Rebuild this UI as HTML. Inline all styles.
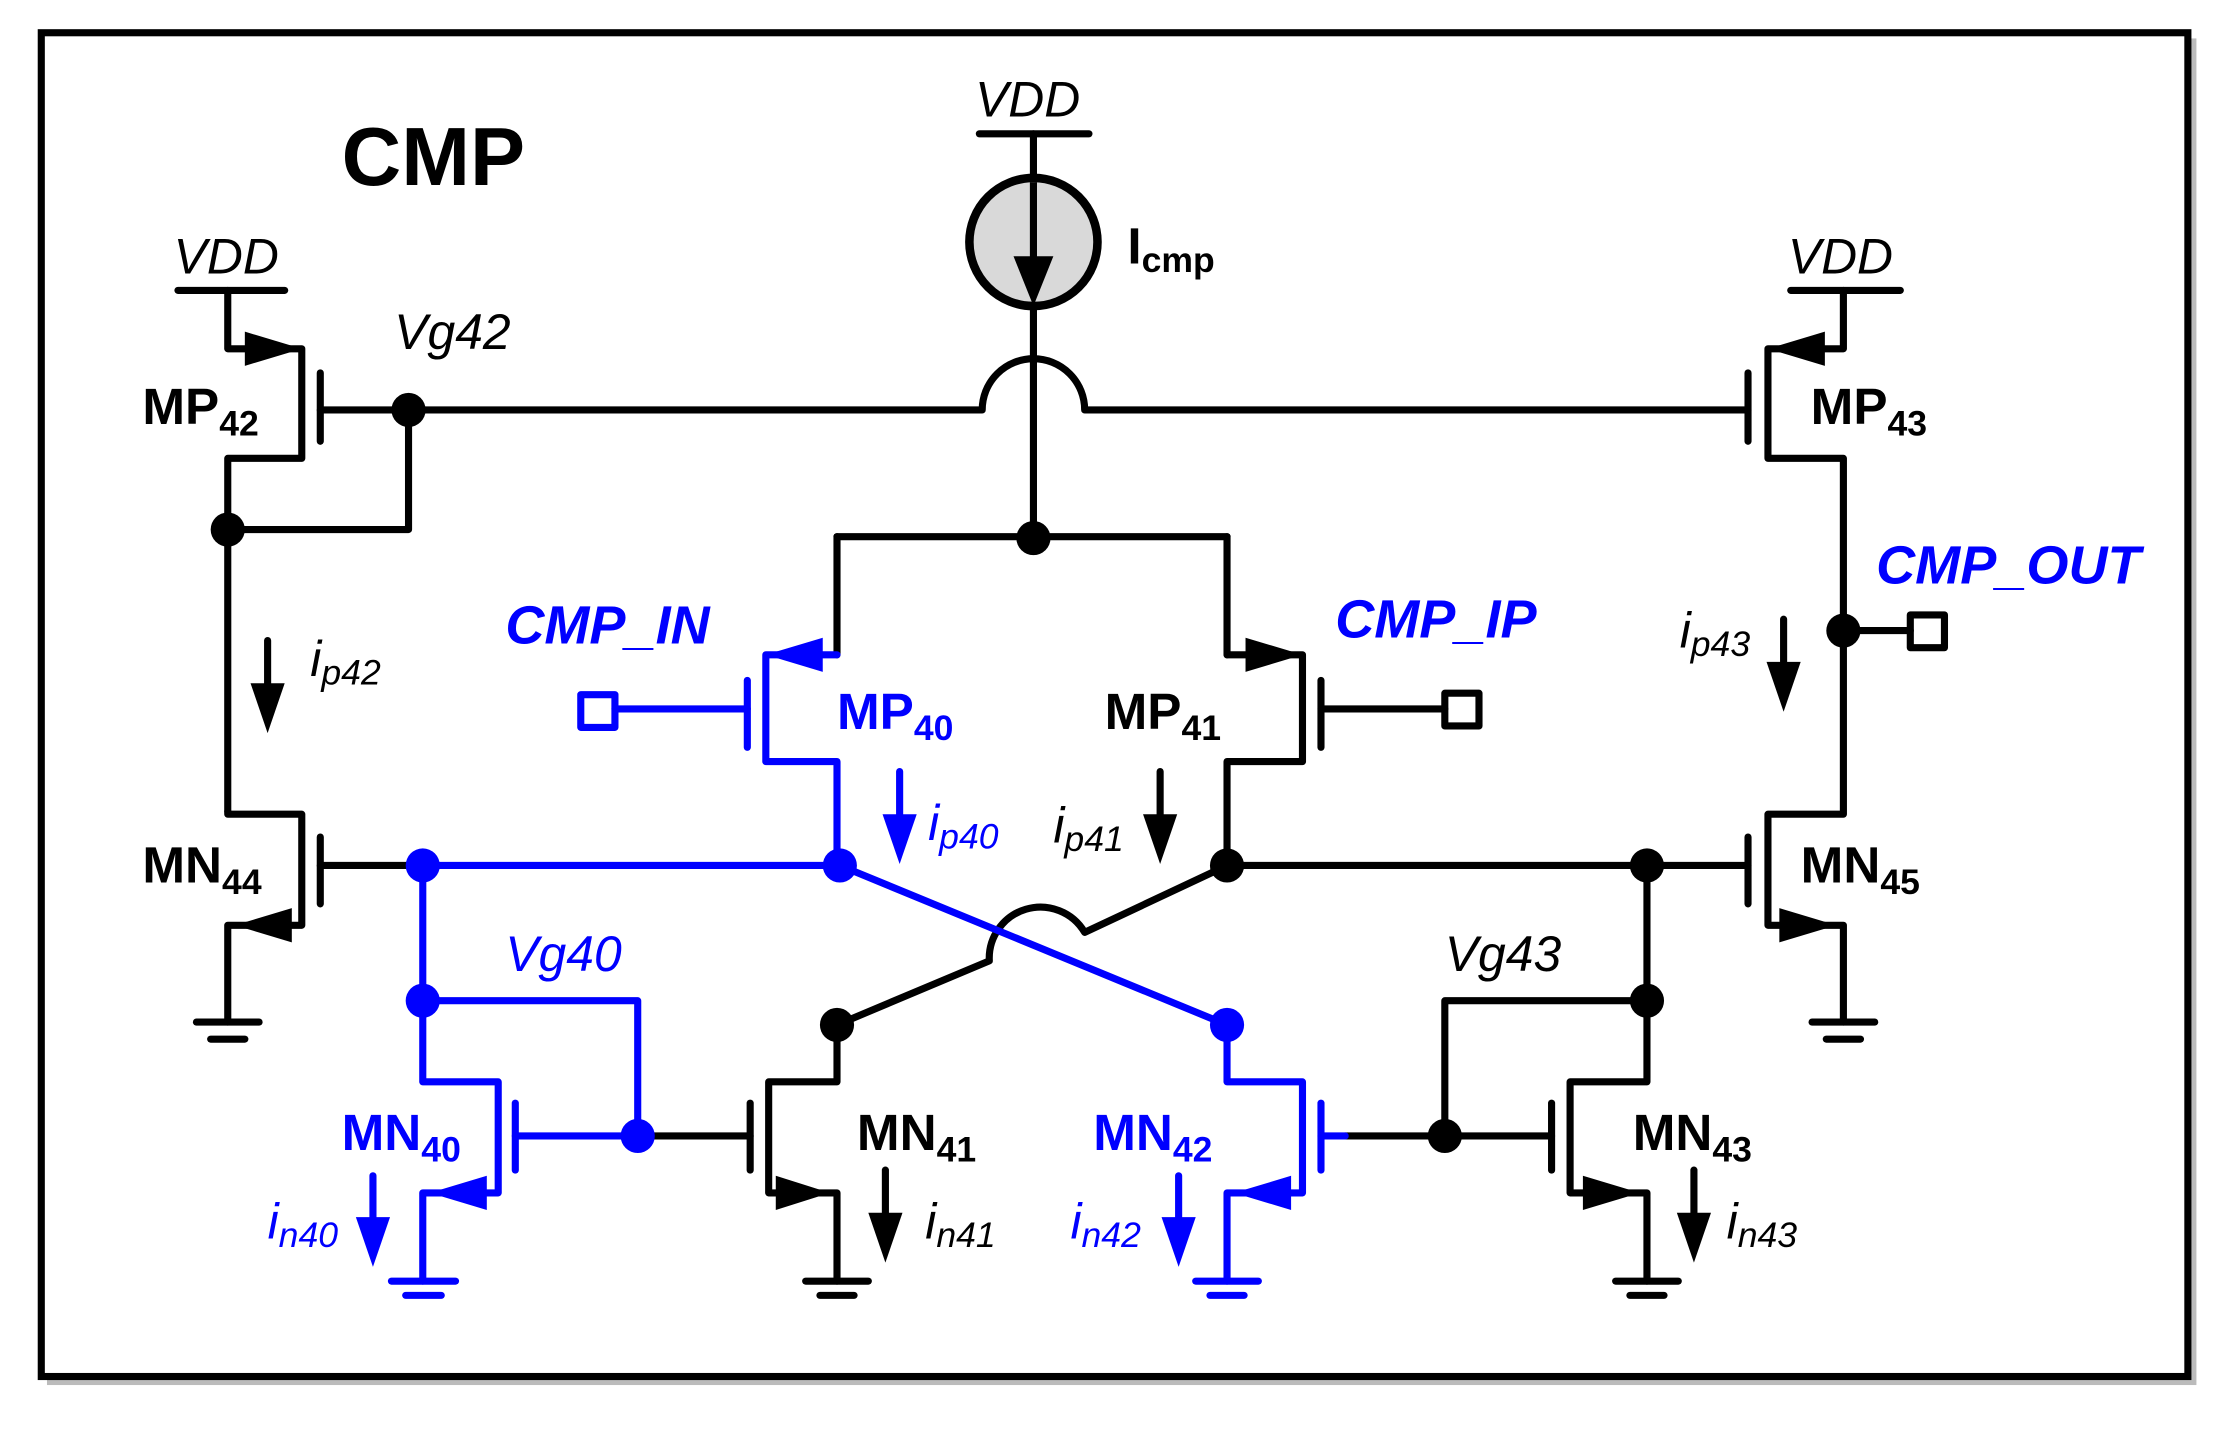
<!DOCTYPE html>
<html><head><style>html,body{margin:0;padding:0;background:#fff}svg{display:block}text{font-family:"Liberation Sans",Arial,sans-serif}</style></head>
<body>
<svg width="2232" height="1440" viewBox="0 0 1568 1011.6" preserveAspectRatio="none" xmlns="http://www.w3.org/2000/svg">
<rect x="33" y="27" width="1510" height="946" fill="#bbb"/>
<rect x="29" y="23" width="1508" height="944" fill="#fff" stroke="#000" stroke-width="5"/>
<g stroke="#000" stroke-width="5" fill="none" stroke-linecap="round" stroke-linejoin="round">
<line x1="688" y1="94" x2="765" y2="94"/>
<line x1="726" y1="94" x2="726" y2="125"/>
<line x1="726" y1="215" x2="726" y2="378"/>
<path d="M287 288 H690 A36 36 0 0 1 762 288 H1228"/>
<line x1="588" y1="377" x2="862" y2="377"/>
<line x1="588" y1="377" x2="588" y2="460"/>
<line x1="862" y1="377" x2="862" y2="460"/>
<line x1="125" y1="204" x2="200" y2="204"/>
<path d="M160 204 V245 H212 V322 H160 V570"/>
<line x1="225" y1="262" x2="225" y2="310"/>
<line x1="225" y1="288" x2="287" y2="288"/>
<path d="M160 372 H287 V288"/>
<path d="M160 570 V572 H212 V650 H160 V718"/>
<line x1="225" y1="588" x2="225" y2="635"/>
<line x1="138" y1="718" x2="182" y2="718"/>
<line x1="148" y1="730" x2="172" y2="730"/>
<path d="M862 460 H915 V535 H862 V608"/>
<line x1="928" y1="478" x2="928" y2="525"/>
<line x1="928" y1="498" x2="1015" y2="498"/>
<rect x="1015" y="487" width="24" height="23"/>
<path d="M588 720 L695 675 A36 36 0 0 1 762 655 L862 608"/>
<line x1="862" y1="608" x2="1228" y2="608"/>
<path d="M588 720 V760 H540 V838 H588 V900"/>
<line x1="527" y1="775" x2="527" y2="822"/>
<line x1="448" y1="798" x2="527" y2="798"/>
<line x1="566" y1="900" x2="610" y2="900"/>
<line x1="576" y1="910" x2="600" y2="910"/>
<line x1="945" y1="798" x2="1015" y2="798"/>
<path d="M1157 608 V760 H1103 V838 H1157 V900"/>
<line x1="1090" y1="775" x2="1090" y2="822"/>
<line x1="1015" y1="798" x2="1090" y2="798"/>
<path d="M1015 798 V703 H1157"/>
<line x1="1135" y1="900" x2="1179" y2="900"/>
<line x1="1145" y1="910" x2="1169" y2="910"/>
<line x1="1258" y1="204" x2="1335" y2="204"/>
<path d="M1295 204 V245 H1242 V322 H1295 V572 H1242 V650 H1295 V718"/>
<line x1="1228" y1="262" x2="1228" y2="310"/>
<line x1="1228" y1="588" x2="1228" y2="635"/>
<line x1="1295" y1="443" x2="1342" y2="443"/>
<rect x="1342" y="432" width="24" height="23"/>
<line x1="1273" y1="718" x2="1317" y2="718"/>
<line x1="1283" y1="730" x2="1307" y2="730"/>
<line x1="188" y1="450" x2="188" y2="490"/>
<line x1="622" y1="822" x2="622" y2="865"/>
<line x1="815" y1="542" x2="815" y2="585"/>
<line x1="1190" y1="822" x2="1190" y2="865"/>
<line x1="1253" y1="435" x2="1253" y2="478"/>
</g>
<circle cx="726" cy="170" r="45" fill="#d9d9d9" stroke="#000" stroke-width="6"/>
<line x1="726" y1="128" x2="726" y2="190" stroke="#000" stroke-width="5"/>
<polygon points="712,180 740,180 726,215" fill="#000"/>
<g stroke="#00f" stroke-width="5" fill="none" stroke-linecap="round" stroke-linejoin="round">
<line x1="297" y1="608" x2="590" y2="608"/>
<line x1="225" y1="608" x2="297" y2="608" stroke="#000"/>
<path d="M297 608 V760 H350 V838 H297 V900"/>
<path d="M297 703 H448 V798"/>
<line x1="362" y1="775" x2="362" y2="822"/>
<line x1="362" y1="798" x2="448" y2="798"/>
<line x1="275" y1="900" x2="320" y2="900"/>
<line x1="285" y1="910" x2="310" y2="910"/>
<path d="M588 460 H538 V535 H588 V608"/>
<line x1="525" y1="478" x2="525" y2="525"/>
<line x1="432" y1="498" x2="525" y2="498"/>
<rect x="408" y="488" width="24" height="23"/>
<line x1="590" y1="608" x2="862" y2="720"/>
<path d="M862 720 V760 H915 V838 H862 V900"/>
<line x1="928" y1="775" x2="928" y2="822"/>
<line x1="928" y1="798" x2="945" y2="798"/>
<line x1="840" y1="900" x2="884" y2="900"/>
<line x1="850" y1="910" x2="874" y2="910"/>
<line x1="632" y1="542" x2="632" y2="585"/>
<line x1="262" y1="826" x2="262" y2="868"/>
<line x1="828" y1="826" x2="828" y2="868"/>
</g>
<g fill="#000">
<polygon points="212,245 172,233 172,257"/>
<polygon points="915,460 875,448 875,472"/>
<polygon points="1242,245 1282,233 1282,257"/>
<polygon points="165,650 205,638 205,662"/>
<polygon points="1290,650 1250,638 1250,662"/>
<polygon points="583,838 545,826 545,850"/>
<polygon points="1152,838 1112,826 1112,850"/>
<polygon points="176,480 200,480 188,515"/>
<polygon points="610,852 634,852 622,887"/>
<polygon points="803,572 827,572 815,607"/>
<polygon points="1178,852 1202,852 1190,887"/>
<polygon points="1241,465 1265,465 1253,500"/>
<circle cx="726" cy="378" r="12"/><circle cx="287" cy="288" r="12"/><circle cx="160" cy="372" r="12"/>
<circle cx="862" cy="608" r="12"/><circle cx="588" cy="720" r="12"/><circle cx="1157" cy="608" r="12"/>
<circle cx="1157" cy="703" r="12"/><circle cx="1015" cy="798" r="12"/><circle cx="1295" cy="443" r="12"/>
</g>
<g fill="#00f">
<polygon points="538,460 578,448 578,472"/>
<polygon points="302,838 342,826 342,850"/>
<polygon points="867,838 907,826 907,850"/>
<polygon points="620,572 644,572 632,607"/>
<polygon points="250,855 274,855 262,890"/>
<polygon points="816,855 840,855 828,890"/>
<circle cx="297" cy="608" r="12"/><circle cx="590" cy="608" r="12"/><circle cx="297" cy="703" r="12"/>
<circle cx="448" cy="798" r="12"/><circle cx="862" cy="720" r="12"/>
</g>
<g font-weight="bold" font-size="36">
<text x="240" y="130" font-size="58">CMP</text>
<text x="792" y="185">I<tspan font-size="25" dy="6">cmp</tspan></text>
<text x="100" y="298">MP<tspan font-size="25" dy="8">42</tspan></text>
<text x="100" y="620">MN<tspan font-size="25" dy="8">44</tspan></text>
<text x="1272" y="298">MP<tspan font-size="25" dy="8">43</tspan></text>
<text x="1265" y="620">MN<tspan font-size="25" dy="8">45</tspan></text>
<text x="776" y="512">MP<tspan font-size="25" dy="8">41</tspan></text>
<text x="602" y="808">MN<tspan font-size="25" dy="8">41</tspan></text>
<text x="1147" y="808">MN<tspan font-size="25" dy="8">43</tspan></text>
<g fill="#00f">
<text x="588" y="512">MP<tspan font-size="25" dy="8">40</tspan></text>
<text x="240" y="808">MN<tspan font-size="25" dy="8">40</tspan></text>
<text x="768" y="808">MN<tspan font-size="25" dy="8">42</tspan></text>
<text x="355" y="452" font-style="italic" font-size="38">CMP_IN</text>
<text x="938" y="448" font-style="italic" font-size="38">CMP_IP</text>
<text x="1318" y="410" font-style="italic" font-size="38">CMP_OUT</text>
</g>
</g>
<g font-style="italic" font-size="35">
<text x="685" y="82">VDD</text>
<text x="122" y="192">VDD</text>
<text x="1256" y="192">VDD</text>
<text x="277" y="245">Vg42</text>
<text x="1015" y="682">Vg43</text>
<text x="355" y="682" fill="#00f">Vg40</text>
<text x="218" y="475">i<tspan font-size="25" dy="6">p42</tspan></text>
<text x="740" y="592">i<tspan font-size="25" dy="6">p41</tspan></text>
<text x="1180" y="455">i<tspan font-size="25" dy="6">p43</tspan></text>
<text x="650" y="870">i<tspan font-size="25" dy="6">n41</tspan></text>
<text x="1213" y="870">i<tspan font-size="25" dy="6">n43</tspan></text>
<g fill="#00f">
<text x="652" y="590">i<tspan font-size="25" dy="6">p40</tspan></text>
<text x="188" y="870">i<tspan font-size="25" dy="6">n40</tspan></text>
<text x="752" y="870">i<tspan font-size="25" dy="6">n42</tspan></text>
</g>
</g>
</svg>
</body></html>
